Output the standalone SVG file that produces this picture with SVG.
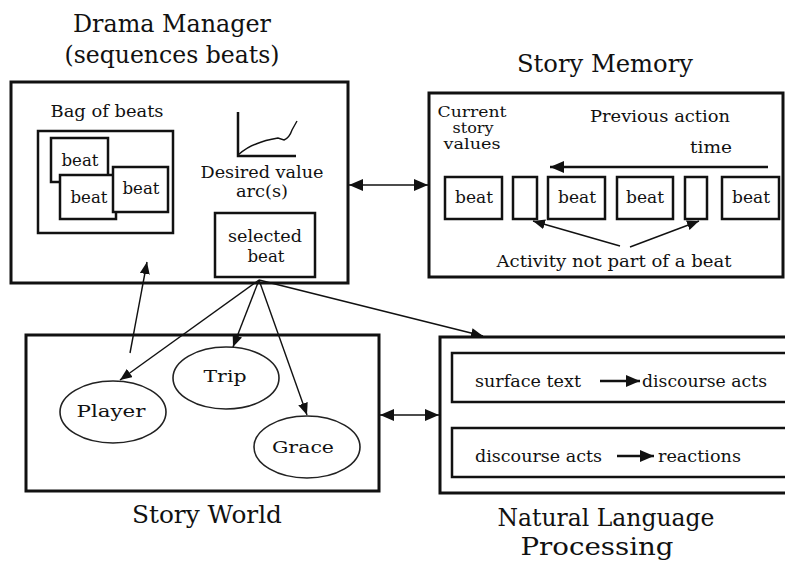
<svg xmlns="http://www.w3.org/2000/svg" width="785" height="563" viewBox="0 0 785 563">
<style>
text{font-family:"DejaVu Serif","Liberation Serif",serif;fill:#111;}
.t{font-size:24px;}
.b{font-size:17px;}
.s{font-size:14px;}
.box{fill:none;stroke:#111;stroke-width:3;}
.ibox{fill:none;stroke:#111;stroke-width:2.5;}
.wbox{fill:#fff;stroke:#111;stroke-width:2.5;}
.ell{fill:none;stroke:#222;stroke-width:1.6;}
.ln{fill:none;stroke:#111;stroke-width:1.4;}
.thk{fill:none;stroke:#111;stroke-width:2.5;}
</style>
<defs>
<marker id="ah" viewBox="0 0 12 10" refX="12" refY="5" markerWidth="12" markerHeight="10" orient="auto-start-reverse" markerUnits="userSpaceOnUse"><path d="M0,0 L12,5 L0,10 z" fill="#111"/></marker>
<marker id="ahb" viewBox="0 0 14 12" refX="14" refY="6" markerWidth="14" markerHeight="12" orient="auto-start-reverse" markerUnits="userSpaceOnUse"><path d="M0,0 L14,6 L0,12 z" fill="#111"/></marker>
</defs>

<g id="drama-manager">
<text class="t" x="172" y="32" text-anchor="middle" textLength="198" lengthAdjust="spacingAndGlyphs">Drama Manager</text>
<text class="t" x="172" y="63" text-anchor="middle" textLength="215" lengthAdjust="spacingAndGlyphs">(sequences beats)</text>
<rect class="box" x="11" y="82" width="337" height="201"/>
<text class="b" x="107" y="117" text-anchor="middle" textLength="113" lengthAdjust="spacingAndGlyphs">Bag of beats</text>
<g id="bag-of-beats">
<rect class="ibox" x="38" y="131" width="135" height="102"/>
<rect class="ibox" x="51" y="138" width="57" height="44"/>
<text class="b" x="80" y="166" text-anchor="middle" textLength="37" lengthAdjust="spacingAndGlyphs">beat</text>
<rect class="wbox" x="60" y="175" width="56" height="44"/>
<text class="b" x="89" y="203" text-anchor="middle" textLength="37" lengthAdjust="spacingAndGlyphs">beat</text>
<rect class="wbox" x="113" y="167" width="55" height="45"/>
<text class="b" x="141" y="194" text-anchor="middle" textLength="37" lengthAdjust="spacingAndGlyphs">beat</text>
</g>
<g id="desired-value-arc">
<path class="thk" d="M238,112 L238,156 L296,156" stroke-width="2.2"/>
<path class="ln" stroke-width="2" d="M238,155 C245,149 250,146 256,144 C263,141 272,139 278,138 L284,140 C289,138 291,133 292,130 L297,121"/>
<text class="b" x="262" y="178" text-anchor="middle" textLength="123" lengthAdjust="spacingAndGlyphs">Desired value</text>
<text class="b" x="262" y="197" text-anchor="middle" textLength="52" lengthAdjust="spacingAndGlyphs">arc(s)</text>
</g>
<g id="selected-beat">
<rect class="ibox" x="215" y="213" width="100" height="64"/>
<text class="b" x="265" y="242" text-anchor="middle" textLength="74" lengthAdjust="spacingAndGlyphs">selected</text>
<text class="b" x="266" y="262" text-anchor="middle" textLength="37" lengthAdjust="spacingAndGlyphs">beat</text>
</g>
</g>

<g id="story-memory">
<text class="t" x="605" y="72" text-anchor="middle" textLength="176" lengthAdjust="spacingAndGlyphs">Story Memory</text>
<rect class="box" x="429" y="93" width="354" height="184"/>
<text class="s" x="472" y="117" text-anchor="middle" textLength="69" lengthAdjust="spacingAndGlyphs">Current</text>
<text class="s" x="473" y="133" text-anchor="middle" textLength="41" lengthAdjust="spacingAndGlyphs">story</text>
<text class="s" x="472" y="149" text-anchor="middle" textLength="57" lengthAdjust="spacingAndGlyphs">values</text>
<text class="b" x="660" y="122" text-anchor="middle" textLength="140" lengthAdjust="spacingAndGlyphs">Previous action</text>
<text class="b" x="711" y="153" text-anchor="middle" textLength="42" lengthAdjust="spacingAndGlyphs">time</text>
<rect class="ibox" x="445" y="177" width="57" height="42"/>
<text class="b" x="474" y="203" text-anchor="middle" textLength="38" lengthAdjust="spacingAndGlyphs">beat</text>
<rect class="ibox" x="513" y="177" width="24" height="42"/>
<rect class="ibox" x="548" y="177" width="57" height="42"/>
<text class="b" x="577" y="203" text-anchor="middle" textLength="38" lengthAdjust="spacingAndGlyphs">beat</text>
<rect class="ibox" x="617" y="177" width="56" height="42"/>
<text class="b" x="645" y="203" text-anchor="middle" textLength="38" lengthAdjust="spacingAndGlyphs">beat</text>
<rect class="ibox" x="685" y="177" width="22" height="42"/>
<rect class="ibox" x="722" y="177" width="57" height="42"/>
<text class="b" x="751" y="203" text-anchor="middle" textLength="38" lengthAdjust="spacingAndGlyphs">beat</text>
<text class="b" x="614" y="267" text-anchor="middle" textLength="235" lengthAdjust="spacingAndGlyphs">Activity not part of a beat</text>
</g>

<g id="story-world">
<rect class="box" x="26" y="335" width="353" height="156"/>
<text class="t" x="207" y="523" text-anchor="middle" textLength="150" lengthAdjust="spacingAndGlyphs">Story World</text>
<g id="player">
<ellipse class="ell" cx="113" cy="412" rx="53" ry="31"/>
<text class="b" x="111" y="417" text-anchor="middle" textLength="69" lengthAdjust="spacingAndGlyphs">Player</text>
</g>
<g id="trip">
<ellipse class="ell" cx="226" cy="378" rx="53" ry="31"/>
<text class="b" x="225" y="382" text-anchor="middle" textLength="43" lengthAdjust="spacingAndGlyphs">Trip</text>
</g>
<g id="grace">
<ellipse class="ell" cx="307" cy="447" rx="53" ry="31"/>
<text class="b" x="303" y="453" text-anchor="middle" textLength="62" lengthAdjust="spacingAndGlyphs">Grace</text>
</g>
</g>

<g id="nlp">
<rect class="box" x="440" y="337" width="350" height="156"/>
<rect class="ibox" x="452" y="353" width="340" height="49"/>
<text class="b" x="475" y="387" textLength="106" lengthAdjust="spacingAndGlyphs">surface text</text>
<line class="thk" x1="600" y1="381" x2="640" y2="381" marker-end="url(#ahb)"/>
<text class="b" x="642" y="387" textLength="125" lengthAdjust="spacingAndGlyphs">discourse acts</text>
<rect class="ibox" x="452" y="428" width="340" height="49"/>
<text class="b" x="475" y="462" textLength="127" lengthAdjust="spacingAndGlyphs">discourse acts</text>
<line class="thk" x1="617" y1="456" x2="654" y2="456" marker-end="url(#ahb)"/>
<text class="b" x="658" y="462" textLength="83" lengthAdjust="spacingAndGlyphs">reactions</text>
<text class="t" x="606" y="526" text-anchor="middle" textLength="217" lengthAdjust="spacingAndGlyphs">Natural Language</text>
<text class="t" x="597" y="555" text-anchor="middle" textLength="153" lengthAdjust="spacingAndGlyphs">Processing</text>
</g>

<g id="connectors">
<line class="ln" stroke-width="1.8" x1="349" y1="185" x2="428" y2="185" marker-start="url(#ahb)" marker-end="url(#ahb)"/>
<line class="ln" stroke-width="1.8" x1="380" y1="415" x2="439" y2="415" marker-start="url(#ahb)" marker-end="url(#ahb)"/>
<line class="thk" x1="768" y1="167" x2="550" y2="167" marker-end="url(#ahb)"/>
<line class="ln" x1="620" y1="246" x2="533" y2="221" marker-end="url(#ah)"/>
<line class="ln" x1="630" y1="247" x2="699" y2="221" marker-end="url(#ah)"/>
<line class="ln" x1="130" y1="353" x2="147" y2="262" marker-end="url(#ah)"/>
<line class="ln" x1="259" y1="280" x2="120" y2="380" marker-end="url(#ah)"/>
<line class="ln" x1="259" y1="280" x2="233" y2="347" marker-end="url(#ah)"/>
<line class="ln" x1="259" y1="280" x2="307" y2="415" marker-end="url(#ah)"/>
<line class="ln" x1="259" y1="280" x2="483" y2="336" marker-end="url(#ah)"/>
</g>
</svg>
